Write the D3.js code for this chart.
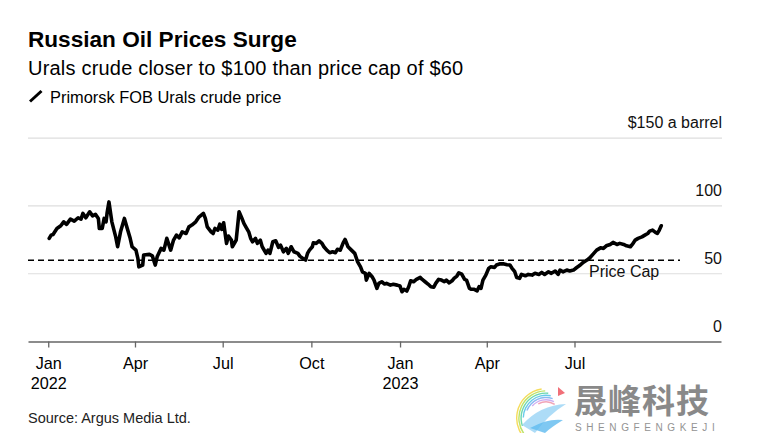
<!DOCTYPE html>
<html><head><meta charset="utf-8">
<script src="https://cdn.jsdelivr.net/npm/d3@7"></script>
<style>
body{margin:0;background:#fff}
svg{display:block;font-family:"Liberation Sans",Arial,Helvetica,sans-serif}
</style>
</head><body>
<svg id="c" width="765" height="433"></svg>
<script>
const dates = [
"2022-01-02","2022-01-04","2022-01-06","2022-01-10","2022-01-14","2022-01-17","2022-01-20","2022-01-24","2022-01-28",
"2022-02-01","2022-02-04","2022-02-06","2022-02-09","2022-02-13","2022-02-16","2022-02-19","2022-02-22","2022-02-23","2022-02-26","2022-02-28",
"2022-03-02","2022-03-03","2022-03-05","2022-03-07","2022-03-08","2022-03-12","2022-03-14","2022-03-17","2022-03-21","2022-03-24","2022-03-27","2022-03-29",
"2022-04-02","2022-04-04","2022-04-05","2022-04-09","2022-04-10","2022-04-16","2022-04-19","2022-04-22","2022-04-24","2022-04-28",
"2022-05-01","2022-05-04","2022-05-08","2022-05-11","2022-05-14","2022-05-17","2022-05-20","2022-05-24","2022-05-27","2022-05-30",
"2022-06-03","2022-06-06","2022-06-11","2022-06-13","2022-06-15","2022-06-19","2022-06-21","2022-06-23","2022-06-26","2022-06-28","2022-06-30",
"2022-07-02","2022-07-04","2022-07-05","2022-07-07","2022-07-10","2022-07-11","2022-07-14","2022-07-15","2022-07-18","2022-07-21","2022-07-23","2022-07-25","2022-07-28","2022-07-30",
"2022-08-01","2022-08-04","2022-08-06","2022-08-09","2022-08-11","2022-08-15","2022-08-17","2022-08-19","2022-08-22","2022-08-25","2022-08-28","2022-08-30",
"2022-09-02","2022-09-05","2022-09-07","2022-09-10","2022-09-13","2022-09-17","2022-09-19","2022-09-22","2022-09-25","2022-09-27","2022-09-29",
"2022-10-02","2022-10-03","2022-10-06","2022-10-09","2022-10-12","2022-10-14","2022-10-17","2022-10-20","2022-10-23","2022-10-26","2022-10-28","2022-10-31",
"2022-11-03","2022-11-05","2022-11-08","2022-11-11","2022-11-15","2022-11-18","2022-11-21","2022-11-23","2022-11-26","2022-11-27","2022-11-30",
"2022-12-03","2022-12-05","2022-12-08","2022-12-10","2022-12-13","2022-12-16","2022-12-18","2022-12-22","2022-12-25","2022-12-29",
"2023-01-01","2023-01-03","2023-01-05","2023-01-08","2023-01-10","2023-01-12","2023-01-15","2023-01-18","2023-01-22","2023-01-24","2023-01-27","2023-01-30",
"2023-02-02","2023-02-05","2023-02-07","2023-02-10","2023-02-13","2023-02-16","2023-02-18","2023-02-21","2023-02-24","2023-02-26",
"2023-03-01","2023-03-03","2023-03-06","2023-03-09","2023-03-11","2023-03-14","2023-03-16","2023-03-19","2023-03-22","2023-03-24","2023-03-26","2023-03-28","2023-03-31",
"2023-04-03","2023-04-05","2023-04-09","2023-04-11","2023-04-15","2023-04-18","2023-04-22","2023-04-25","2023-04-27","2023-04-30",
"2023-05-02","2023-05-05","2023-05-07","2023-05-11","2023-05-14","2023-05-18","2023-05-21","2023-05-25","2023-05-28","2023-05-31",
"2023-06-04","2023-06-07","2023-06-11","2023-06-14","2023-06-16","2023-06-19","2023-06-23","2023-06-26","2023-06-30",
"2023-07-03","2023-07-07","2023-07-10","2023-07-14","2023-07-17","2023-07-21","2023-07-24","2023-07-28","2023-07-31",
"2023-08-03","2023-08-07","2023-08-10","2023-08-14","2023-08-17","2023-08-21","2023-08-24","2023-08-28","2023-08-30",
"2023-09-02","2023-09-05","2023-09-09","2023-09-12","2023-09-15","2023-09-17","2023-09-20","2023-09-23","2023-09-25","2023-09-27","2023-09-29"
];
const prices = [
76.1,78.5,79.0,83.4,85.4,88.3,86.4,90.3,88.8,
91.3,90.3,94.5,91.3,95.7,92.7,93.8,90.8,83.4,83.4,90.8,
88.3,94.5,103.0,93.2,88.3,77.2,69.9,80.9,90.8,83.4,76.1,69.9,
67.4,61.3,55.1,56.4,63.8,64.3,63.2,56.4,62.5,68.7,
67.4,76.1,67.4,74.8,78.5,76.5,80.9,79.7,84.6,85.9,
88.3,91.5,94.5,90.8,84.6,80.9,79.7,83.4,82.2,86.6,82.7,
87.6,77.2,72.4,77.8,74.8,69.9,73.6,74.8,95.7,90.8,87.1,84.6,80.9,76.1,
73.6,76.1,72.4,74.8,69.9,65.0,67.4,65.0,73.6,74.3,69.4,71.1,
66.2,68.7,65.0,69.9,66.2,65.0,63.0,61.3,60.1,65.0,67.4,
69.9,72.8,72.4,74.3,72.4,69.9,67.4,65.5,66.2,65.5,68.0,67.4,
72.8,75.3,69.9,67.8,65.0,58.8,55.1,51.4,50.3,45.3,50.3,
47.8,45.3,39.2,42.9,44.1,42.4,42.9,41.6,42.2,41.6,
40.9,36.7,38.5,37.2,40.4,44.8,44.1,45.8,47.3,45.8,44.1,42.4,
40.4,40.0,42.9,45.8,45.3,44.1,45.3,43.3,44.8,46.6,
48.3,50.7,49.7,45.8,45.3,39.2,38.5,38.5,37.4,40.4,39.2,45.3,49.0,
54.0,55.1,54.7,56.4,57.3,57.3,56.6,56.5,54.2,51.5,
47.2,46.6,49.5,48.5,49.5,49.0,50.3,49.5,51.0,49.5,
51.4,50.3,52.0,49.5,52.7,51.4,52.7,52.0,52.7,
54.4,56.4,58.4,60.1,61.8,65.0,67.4,69.1,68.7,
70.6,71.6,73.1,71.6,72.4,71.6,70.6,69.9,71.6,
74.8,76.1,77.2,78.5,79.7,81.4,82.2,80.5,79.7,82.2,85.4
];
const yTicks = [0, 50, 100, 150];
const yTickLabels = ["0", "50", "100", "$150 a barrel"];
const xTickDates = ["2022-01-01","2022-04-01","2022-07-01","2022-10-01","2023-01-01","2023-04-01","2023-07-01"];
const xTickLabels = [["Jan","2022"],["Apr"],["Jul"],["Oct"],["Jan","2023"],["Apr"],["Jul"]];
const priceCap = 60;
const priceCapLabel = "Price Cap";
const title = "Russian Oil Prices Surge";
const subtitle = "Urals crude closer to $100 than price cap of $60";
const legendLabel = "Primorsk FOB Urals crude price";
const source = "Source: Argus Media Ltd.";

const parse = d3.timeParse("%Y-%m-%d");
const data = dates.map((d, i) => ({date: parse(d), value: prices[i]}));

const svg = d3.select("#c");
const plotLeft = 28, plotRight = 721, plotTop = 138.2, plotBottom = 341.5;

const x = d3.scaleTime().domain([parse("2021-12-11"), parse("2023-11-30")]).range([plotLeft, plotRight]);
const y = d3.scaleLinear().domain([0, 150]).range([plotBottom, plotTop]);

// Titles
svg.append("text").attr("x", 28).attr("y", 46.5).attr("font-size", 22.6).attr("font-weight", "bold")
  .attr("fill", "#000").text(title);
svg.append("text").attr("x", 28).attr("y", 75).attr("font-size", 20).attr("letter-spacing", 0.2)
  .attr("fill", "#000").text(subtitle);
svg.append("line").attr("x1", 30).attr("y1", 101.5).attr("x2", 41.5).attr("y2", 91)
  .attr("stroke", "#000").attr("stroke-width", 3);
svg.append("text").attr("x", 50).attr("y", 102.5).attr("font-size", 16.4).attr("fill", "#000").text(legendLabel);

// Grid lines + y labels
const gy = svg.append("g");
gy.selectAll("line.grid").data(yTicks.filter(t => t > 0)).join("line")
  .attr("class", "grid").attr("x1", plotLeft).attr("x2", plotRight + 1)
  .attr("y1", d => y(d)).attr("y2", d => y(d))
  .attr("stroke", "#dedede").attr("stroke-width", 1.2);
gy.selectAll("text").data(yTicks).join("text")
  .attr("x", plotRight + 1).attr("y", d => y(d) - 10)
  .attr("text-anchor", "end").attr("font-size", 16).attr("fill", "#111")
  .text((d, i) => yTickLabels[i]);

// Price cap
svg.append("line").attr("x1", plotLeft).attr("x2", 680)
  .attr("y1", y(priceCap)).attr("y2", y(priceCap))
  .attr("stroke", "#000").attr("stroke-width", 1.5).attr("stroke-dasharray", "6,4");
svg.append("text").attr("x", 589).attr("y", y(priceCap) + 16.5).attr("font-size", 16)
  .attr("fill", "#111").text(priceCapLabel);

// X axis
const xAxis = d3.axisBottom(x)
  .tickValues(xTickDates.map(parse))
  .tickSize(6).tickSizeOuter(0).tickFormat("");
const gx = svg.append("g").attr("transform", `translate(0,${plotBottom})`).call(xAxis);
gx.select(".domain").attr("stroke", "#666").attr("stroke-width", 1.5);
gx.selectAll(".tick line").attr("stroke", "#666").attr("stroke-width", 1.3);
gx.selectAll(".tick").each(function(d, i) {
  const t = d3.select(this).append("text").attr("fill", "#000").attr("font-size", 16.2)
    .attr("text-anchor", "middle").attr("font-family", "'Liberation Sans',Arial,sans-serif");
  xTickLabels[i].forEach((s, k) => {
    t.append("tspan").attr("x", 0).attr("y", 27.5 + k * 20).text(s);
  });
});

// Line
const line = d3.line().x(d => x(d.date)).y(d => y(d.value)).curve(d3.curveLinear);
svg.append("path").datum(data).attr("d", line).attr("fill", "none")
  .attr("stroke", "#000").attr("stroke-width", 3.6).attr("stroke-linejoin", "round").attr("stroke-linecap", "round");

// Source
svg.append("text").attr("x", 28).attr("y", 422.5).attr("font-size", 14.5).attr("fill", "#222").text(source);

// Watermark
const wm = svg.append("g").attr("opacity", 0.9);
const arcColors = ["#f5d94a", "#b6e05a", "#5fd3a8", "#59c6e8", "#7fb3f0", "#c9a6f0", "#f09ab0"];
arcColors.forEach((c, i) => {
  const r = 30 - i * 2.2;
  const a = d3.arc().innerRadius(r - 1.4).outerRadius(r)
    .startAngle(-2.6 + i * 0.35).endAngle(-0.15 + i * 0.12);
  wm.append("path").attr("d", a()).attr("fill", c).attr("transform", "translate(546,418)");
});
wm.append("path").attr("d", "M522,425 Q540,405 566,404 Q548,415 535,433 Z").attr("fill", "#8fd0f5").attr("opacity", 0.8);
wm.append("path").attr("d", "M530,428 Q548,418 563,420 Q550,428 545,433 Z").attr("fill", "#4fb4ee").attr("opacity", 0.8);
wm.append("path").attr("d", "M558,387 L565,393 L558,396 Z").attr("fill", "#f0606a");
wm.append("text").attr("x", 574).attr("y", 413).attr("font-size", 33).attr("font-weight", "bold")
  .attr("font-family", "'Noto Sans CJK SC',sans-serif").attr("fill", "#7d7d7d").attr("letter-spacing", 1).text("晟峰科技");
wm.append("text").attr("x", 575).attr("y", 431).attr("font-size", 10).attr("fill", "#888")
  .attr("letter-spacing", 4.6).text("SHENGFENGKEJI");
</script>
</body></html>
